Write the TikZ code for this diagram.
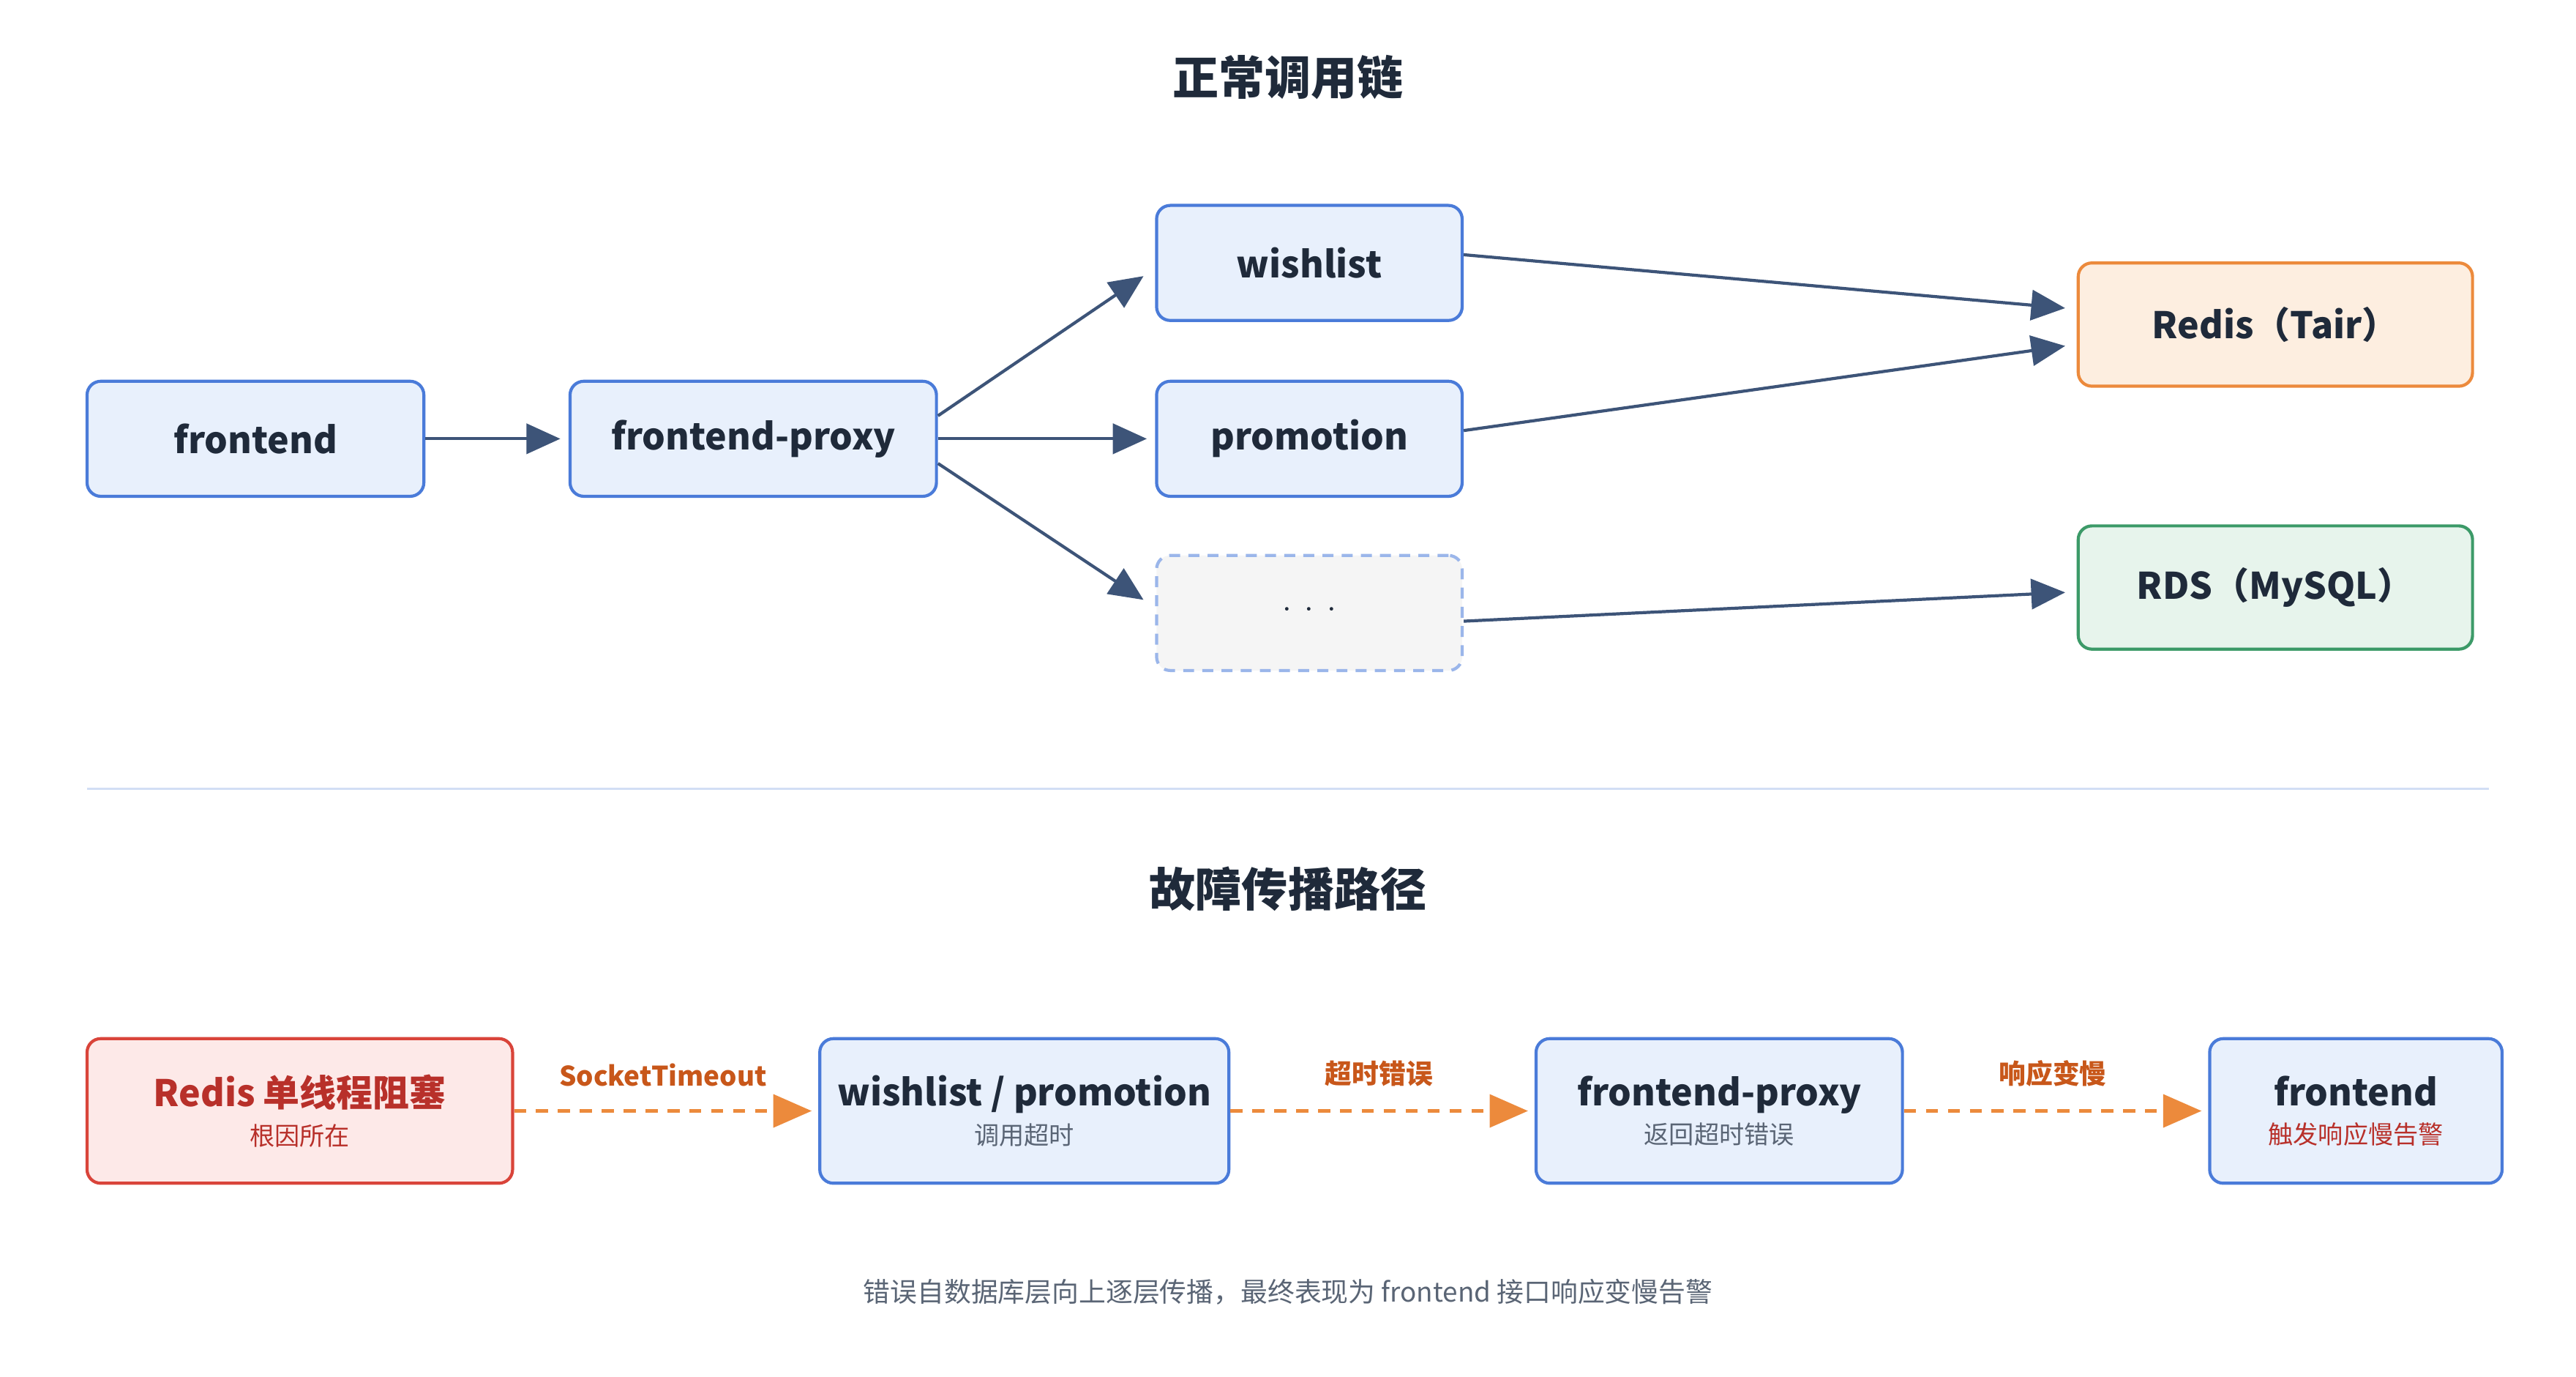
\documentclass[tikz,border=0pt]{standalone}
\usepackage{fontspec}
\setmainfont{Noto Sans CJK SC}
\usetikzlibrary{arrows.meta,calc}
\definecolor{boxblue}{HTML}{E8F0FC}
\definecolor{lineblue}{HTML}{4A7BD9}
\definecolor{arrowdark}{HTML}{3D5478}
\definecolor{txtdark}{HTML}{1F2A3A}
\definecolor{redfill}{HTML}{FDE9E8}
\definecolor{redline}{HTML}{D9443A}
\definecolor{redtxt}{HTML}{B8302A}
\definecolor{orfill}{HTML}{FDEEE0}
\definecolor{orline}{HTML}{EC8A3C}
\definecolor{ortxt}{HTML}{C8571A}
\definecolor{grfill}{HTML}{E7F4EC}
\definecolor{grline}{HTML}{3C9A68}
\definecolor{subgray}{HTML}{5A6575}
\newcommand{\subtxt}[2][subgray]{{\fontsize{13}{15}\selectfont\mdseries\color{#1}#2}}
\tikzset{
  box/.style={draw=lineblue, fill=boxblue, line width=1.6pt, rounded corners=0.25cm,
    minimum height=2.1cm, inner sep=0pt, text=txtdark, font=\fontsize{19}{22}\selectfont\bfseries, align=center},
  flow/.style={draw=arrowdark, line width=1.6pt, -{Triangle[length=0.62cm,width=0.55cm]}},
  fault/.style={draw=orline, line width=1.6pt, dash pattern=on 0.22cm off 0.18cm,
    -{Triangle[length=0.7cm,width=0.6cm]}},
  title/.style={text=txtdark, font=\fontsize{24}{28}\selectfont\bfseries},
  lbl/.style={text=ortxt, font=\fontsize{14}{16}\selectfont\bfseries}
}
\begin{document}
\begin{tikzpicture}[x=0.03cm,y=-0.03cm]
  \useasboundingbox[fill=white] (0,0) rectangle (1568,837.5);
  % normal call chain
  \node[title] (t1) at (784,47) {正常调用链};
  \node[box, minimum width=6.15cm] (fe) at (155.5,267) {frontend};
  \node[box, minimum width=6.69cm] (proxy) at (458.5,267) {frontend-proxy};
  \node[box, minimum width=5.58cm] (wish) at (797,160) {wishlist};
  \node[box, minimum width=5.58cm] (promo) at (797,267) {promotion};
  \node[box, minimum width=5.58cm, draw=lineblue!55, fill=gray!8, dash pattern=on 0.2cm off 0.15cm, font=\fontsize{19}{22}\selectfont] (more) at (797,373) {\raisebox{0.15em}{$\cdot\,\cdot\,\cdot$}};
  \node[box, minimum width=7.2cm, minimum height=2.25cm, draw=orline, fill=orfill] (redis) at (1385,197.5) {Redis（Tair）};
  \node[box, minimum width=7.2cm, minimum height=2.25cm, draw=grline, fill=grfill] (rds) at (1385,357.5) {RDS（MySQL）};
  \draw[flow] (fe) -- ($(proxy.west)+(-5,0)$);
  \draw[flow] ($(proxy.east)+(0,-14)$) -- ($(wish.west)+(-7,8)$);
  \draw[flow] (proxy) -- ($(promo.west)+(-5,0)$);
  \draw[flow] ($(proxy.east)+(0,15)$) -- ($(more.west)+(-7,-8)$);
  \draw[flow] ($(wish.east)+(0,-5)$) -- ($(redis.west)+(-7,-10)$);
  \draw[flow] ($(promo.east)+(0,-5)$) -- ($(redis.west)+(-7,13)$);
  \draw[flow] ($(more.east)+(0,5)$) -- ($(rds.west)+(-7,3)$);
  % separator
  \coordinate (s1) at (53,480);
  \coordinate (s2) at (1515,480);
  \draw[draw=lineblue!25, line width=1pt] (s1) -- (s2);
  % fault propagation
  \node[title] (t2) at (784,541) {故障传播路径};
  \node[box, minimum width=7.77cm, minimum height=2.64cm, draw=redline, fill=redfill, text=redtxt] (rc) at (182.5,676)
    {Redis 单线程阻塞\\[-2pt]\subtxt[redtxt]{根因所在}};
  \node[box, minimum width=7.47cm, minimum height=2.64cm] (wp) at (623.5,676)
    {wishlist / promotion\\[-2pt]\subtxt{调用超时}};
  \node[box, minimum width=6.69cm, minimum height=2.64cm] (fp) at (1046.5,676)
    {frontend-proxy\\[-2pt]\subtxt{返回超时错误}};
  \node[box, minimum width=5.34cm, minimum height=2.64cm] (ff) at (1434,676)
    {frontend\\[-2pt]\subtxt[redtxt]{触发响应慢告警}};
  \draw[fault] (rc) -- node[lbl, above=0.3cm] {SocketTimeout} ($(wp.west)+(-4,0)$);
  \draw[fault] (wp) -- node[lbl, above=0.3cm] {超时错误} ($(fp.west)+(-4,0)$);
  \draw[fault] (fp) -- node[lbl, above=0.3cm] {响应变慢} ($(ff.west)+(-4,0)$);
  \node[font=\fontsize{14}{16}\selectfont, text=subgray] (note) at (784,786)
    {错误自数据库层向上逐层传播，最终表现为 frontend 接口响应变慢告警};
\end{tikzpicture}
\end{document}
